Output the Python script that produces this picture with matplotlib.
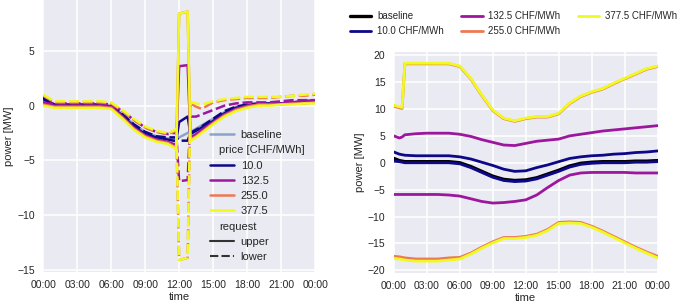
import numpy as np
import matplotlib
matplotlib.use('Agg')
import matplotlib.pyplot as plt
from matplotlib.lines import Line2D

plt.style.use('seaborn-v0_8-darkgrid')
plt.rcParams['font.family'] = ['Liberation Sans', 'DejaVu Sans']
plt.rcParams['font.size'] = 7.5
plt.rcParams['axes.labelsize'] = 8

# time axis in hours (left panel has extra points round the 12:00 request)
t_left = [0, 0.5, 1, 2, 3, 4, 5, 6, 7, 8, 9, 10, 11, 11.5, 11.75, 12, 12.75, 13, 13.5, 14,
          15, 16, 17, 18, 19, 20, 21, 22, 23, 24]
t_right = [0, 0.5, 0.75, 1, 2, 3, 4, 5, 6, 7, 8, 9, 10, 11, 12, 13, 14, 15, 16, 17, 18,
           19, 20, 21, 22, 23, 24]

prices = ['10.0', '132.5', '255.0', '377.5']
price_colors = ['#0d0887', '#9c179e', '#ed7953', '#f0f921']
hour_ticks = [0, 3, 6, 9, 12, 15, 18, 21, 24]
hour_labels = ['00:00', '03:00', '06:00', '09:00', '12:00', '15:00', '18:00', '21:00', '00:00']

# left panel: single request at 12:00
base_left = [0.6, 0.3, 0.1, 0.1, 0.1, 0.1, 0.1, 0.0, -0.8, -1.7, -2.4, -2.8, -3.0, -3.0, -3.0,
             -2.9, -2.5, -2.4, -2.1, -1.8, -1.2, -0.6, -0.1, 0.1, 0.2, 0.2, 0.2, 0.3, 0.3, 0.4]
upper_10 = [0.7, 0.4, 0.1, 0.1, 0.1, 0.1, 0.1, -0.1, -0.9, -1.9, -2.6, -2.9, -3.1, -3.2, -3.2,
            -1.5, -1.0, -2.6, -2.3, -2.0, -1.4, -0.7, -0.2, 0.0, 0.1, 0.1, 0.2, 0.3, 0.4, 0.5]
lower_10 = [0.6, 0.3, 0.1, 0.1, 0.1, 0.1, 0.1, 0.0, -0.8, -1.7, -2.4, -2.8, -2.9, -2.9, -2.9,
            -3.2, -3.2, -2.5, -2.2, -1.9, -1.2, -0.5, -0.1, 0.1, 0.2, 0.2, 0.2, 0.3, 0.3, 0.4]
upper_132 = [0.3, 0.1, 0.0, 0.0, 0.0, 0.0, 0.0, -0.1, -1.0, -2.0, -2.7, -3.1, -3.3, -3.5, -3.5,
             3.6, 3.7, -2.9, -2.6, -2.2, -1.5, -0.8, -0.3, 0.0, 0.1, 0.1, 0.2, 0.3, 0.4, 0.4]
lower_132 = [0.3, 0.2, 0.2, 0.2, 0.2, 0.2, 0.2, 0.1, -0.5, -1.3, -2.0, -2.4, -2.6, -2.5, -2.5,
             -6.9, -6.8, -1.0, -1.0, -0.8, -0.4, 0.0, 0.2, 0.3, 0.3, 0.3, 0.4, 0.5, 0.5, 0.5]
upper_255 = [0.1, 0.0, -0.1, -0.1, -0.1, -0.1, -0.1, -0.2, -1.1, -2.1, -2.8, -3.2, -3.4, -3.7, -3.9,
             8.4, 8.6, -3.1, -2.8, -2.4, -1.6, -0.9, -0.4, -0.1, 0.1, 0.1, 0.1, 0.2, 0.2, 0.3]
lower_255 = [0.9, 0.6, 0.3, 0.3, 0.3, 0.3, 0.3, 0.2, -0.5, -1.3, -2.0, -2.4, -2.6, -2.4, -2.2,
             -14.1, -13.9, 0.2, -0.1, -0.3, 0.3, 0.5, 0.6, 0.7, 0.7, 0.7, 0.8, 0.9, 0.9, 1.0]
upper_377 = [0.0, -0.1, -0.2, -0.2, -0.2, -0.2, -0.2, -0.3, -1.2, -2.2, -2.9, -3.3, -3.5, -3.8, -4.1,
             8.4, 8.6, -3.2, -2.9, -2.5, -1.7, -1.0, -0.5, -0.2, 0.0, 0.0, 0.1, 0.1, 0.2, 0.2]
lower_377 = [1.0, 0.7, 0.4, 0.4, 0.4, 0.4, 0.4, 0.3, -0.4, -1.2, -1.9, -2.3, -2.5, -2.3, -2.1,
             -14.1, -13.9, 0.3, 0.2, 0.1, 0.4, 0.6, 0.7, 0.8, 0.8, 0.8, 0.8, 0.9, 1.0, 1.1]

# right panel: flexibility envelope over the day
base_right = [0.8, 0.4, 0.3, 0.2, 0.2, 0.2, 0.2, 0.2, 0.0, -0.7, -1.6, -2.5, -3.1, -3.3,
              -3.2, -2.8, -2.1, -1.4, -0.6, -0.1, 0.1, 0.2, 0.2, 0.2, 0.3, 0.3, 0.4]
env_upper_10 = [2.0, 1.6, 1.5, 1.4, 1.3, 1.3, 1.3, 1.3, 1.1, 0.7, 0.1, -0.5, -1.2, -1.6,
                -1.5, -0.9, -0.4, 0.2, 0.8, 1.1, 1.3, 1.4, 1.6, 1.7, 1.9, 2.0, 2.2]
env_lower_10 = [0.3, 0.2, 0.1, 0.0, 0.0, 0.0, 0.0, 0.0, -0.2, -0.9, -1.8, -2.7, -3.3, -3.5,
                -3.4, -3.0, -2.3, -1.6, -0.8, -0.3, -0.1, 0.0, 0.0, 0.0, 0.1, 0.1, 0.2]
env_upper_132 = [5.0, 4.6, 4.8, 5.2, 5.4, 5.5, 5.5, 5.5, 5.3, 4.9, 4.3, 3.8, 3.3, 3.2,
                 3.6, 4.0, 4.2, 4.4, 5.0, 5.3, 5.6, 5.9, 6.1, 6.3, 6.5, 6.7, 6.9]
env_lower_132 = [-5.9, -5.9, -5.9, -5.9, -5.9, -5.9, -5.9, -6.0, -6.2, -6.7, -7.2, -7.5, -7.4, -7.2,
                 -6.9, -6.0, -4.6, -3.3, -2.3, -1.9, -1.8, -1.8, -1.8, -1.8, -1.9, -1.9, -1.9]
env_upper_255 = [10.5, 10.2, 10.1, 18.4, 18.4, 18.4, 18.4, 18.4, 17.9, 15.6, 12.5, 9.7, 8.2, 7.7,
                 8.2, 8.5, 8.5, 9.1, 11.0, 12.3, 13.1, 13.7, 14.7, 15.6, 16.5, 17.4, 17.9]
env_lower_255 = [-17.4, -17.5, -17.6, -17.7, -17.9, -17.9, -17.9, -17.7, -17.6, -16.8, -15.7, -14.7,
                 -13.9, -13.9, -13.7, -13.3, -12.4, -11.1, -11.0, -11.1, -11.8, -12.7, -13.7, -14.7,
                 -15.7, -16.6, -17.4]
env_upper_377 = [10.7, 10.4, 10.3, 18.5, 18.5, 18.5, 18.5, 18.5, 18.0, 15.7, 12.6, 9.8, 8.3, 7.8,
                 8.3, 8.6, 8.6, 9.2, 11.1, 12.4, 13.2, 13.8, 14.8, 15.7, 16.6, 17.5, 18.0]
env_lower_377 = [-17.8, -17.9, -18.0, -18.1, -18.3, -18.3, -18.3, -18.1, -17.9, -17.0, -15.9, -14.9,
                 -14.1, -14.1, -13.9, -13.5, -12.6, -11.3, -11.2, -11.3, -12.0, -12.9, -13.9, -14.9,
                 -15.9, -16.8, -17.7]

upper_left = [upper_10, upper_132, upper_255, upper_377]
lower_left = [lower_10, lower_132, lower_255, lower_377]
upper_right = [env_upper_10, env_upper_132, env_upper_255, env_upper_377]
lower_right = [env_lower_10, env_lower_132, env_lower_255, env_lower_377]

dash = (0, (4, 1.5))
base_color = '#4c72b0'

fig = plt.figure(figsize=(6.85, 3.06), dpi=100)
ax1 = fig.add_axes([0.063, 0.111, 0.397, 0.889])
ax2 = fig.add_axes([0.575, 0.108, 0.385, 0.722])

# left panel
ax1.plot(t_left, base_left, color=base_color, alpha=0.6, lw=1.8)
for i in range(len(prices)):
    ax1.plot(t_left, upper_left[i], color=price_colors[i], lw=1.8)
    ax1.plot(t_left, lower_left[i], color=price_colors[i], lw=1.8, linestyle=dash)

ax1.set_xlim(0, 24)
ax1.set_ylim(-15.2, 9.65)
ax1.set_yticks([-15, -10, -5, 0, 5])
ax1.set_yticklabels(['\u221215', '\u221210', '\u22125', '0', '5'])
ax1.set_xlabel('time', labelpad=2)
ax1.set_ylabel('power [MW]', labelpad=2)

handles = [Line2D([], [], color=base_color, alpha=0.6, lw=1.8),
           Line2D([], [], linestyle='none')]
labels = ['baseline', 'price [CHF/MWh]']
for i in range(len(prices)):
    handles.append(Line2D([], [], color=price_colors[i], lw=1.8))
    labels.append(prices[i])
handles += [Line2D([], [], linestyle='none'),
            Line2D([], [], color='#333333', lw=1.5),
            Line2D([], [], color='#333333', lw=1.5, linestyle=dash)]
labels += ['request', 'upper', 'lower']
leg = ax1.legend(handles, labels, loc='lower right', bbox_to_anchor=(1.0, 0.0), frameon=False,
                 fontsize=8, handlelength=2.15, handletextpad=0.63, labelspacing=0.47,
                 borderpad=0.4)
# subheadings sit left of the other labels
for box in leg._legend_handle_box.get_children()[0].get_children():
    da, txt = box.get_children()
    if txt.get_text() in ('price [CHF/MWh]', 'request'):
        da.width = 1.9

# right panel
ax2.plot(t_right, base_right, color='black', lw=2.4, label='baseline')
for i in range(len(prices)):
    ax2.plot(t_right, upper_right[i], color=price_colors[i], lw=2.0,
             label=prices[i] + ' CHF/MWh')
    ax2.plot(t_right, lower_right[i], color=price_colors[i], lw=2.0)

ax2.set_xlim(0, 24)
ax2.set_ylim(-20.5, 20.6)
ax2.set_yticks([-20, -15, -10, -5, 0, 5, 10, 15, 20])
ax2.set_yticklabels(['\u221220', '\u221215', '\u221210', '\u22125', '0', '5', '10', '15', '20'])
ax2.set_xlabel('time', labelpad=2)
ax2.set_ylabel('power [MW]', labelpad=2)
ax2.legend(loc='lower left', bbox_to_anchor=(-0.182, 1.055), ncol=3, frameon=False,
           fontsize=7.0, handlelength=2.2, handletextpad=0.6, columnspacing=1.8,
           labelspacing=0.5, borderaxespad=0)

for ax in (ax1, ax2):
    ax.set_xticks(hour_ticks)
    ax.set_xticklabels(hour_labels)
    ax.tick_params(axis='x', labelsize=7.5, pad=5.5)
    ax.tick_params(axis='y', labelsize=7.5, pad=6)
    ax.grid(True, color='white', lw=1.1)

plt.savefig('out.png', dpi=100)
